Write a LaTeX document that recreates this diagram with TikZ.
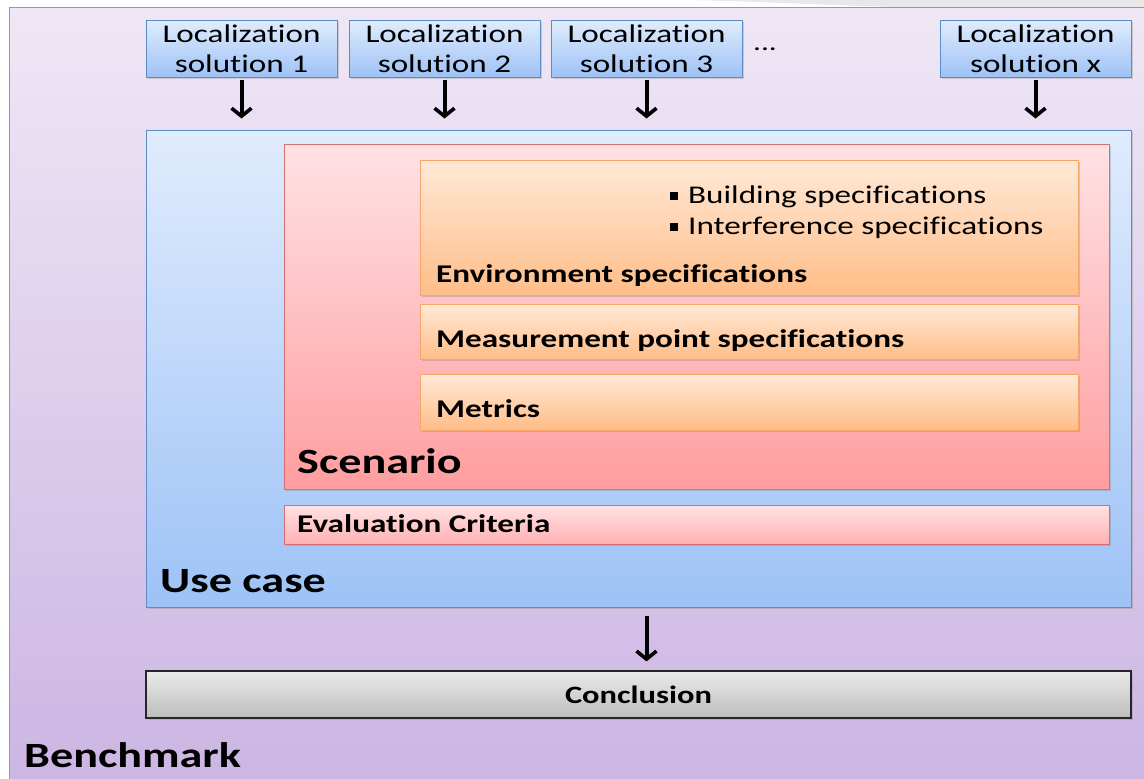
\documentclass[tikz,border=0pt]{standalone}
\usepackage{fontspec}
\setmainfont{Carlito}[FakeStretch=1.3, Ligatures=NoCommon]
\usetikzlibrary{positioning, arrows.meta, shadows}

\definecolor{frametop}{HTML}{EFE7F5}
\definecolor{framebot}{HTML}{CBB4E3}
\definecolor{frameline}{HTML}{A58BC0}
\definecolor{bluetop}{HTML}{E0ECFD}
\definecolor{bluebot}{HTML}{9EC2F6}
\definecolor{blueline}{HTML}{5C8CC8}
\definecolor{pinktop}{HTML}{FFE2E5}
\definecolor{pinkbot}{HTML}{FF9D9F}
\definecolor{pinkline}{HTML}{D86E70}
\definecolor{orangetop}{HTML}{FFE9D7}
\definecolor{orangebot}{HTML}{FFBD88}
\definecolor{orangeline}{HTML}{F7A66A}
\definecolor{greytop}{HTML}{EAEAEA}
\definecolor{greybot}{HTML}{BDBDBD}

\tikzset{
    soft_shadow/.style={
        drop shadow={opacity=0.3, shadow xshift=1.5pt, shadow yshift=-1.5pt}
    },
    sol_box/.style={
        draw=blueline, line width=1pt,
        top color=bluetop, bottom color=bluebot,
        soft_shadow,
        minimum width=191pt, minimum height=57pt,
        inner sep=0pt, align=center,
        font=\fontsize{25.5}{30}\selectfont
    },
    case_box/.style={
        draw=blueline, line width=1pt,
        top color=bluetop, bottom color=bluebot,
        soft_shadow, inner sep=0pt
    },
    scen_box/.style={
        draw=pinkline, line width=1pt,
        top color=pinktop, bottom color=pinkbot,
        soft_shadow, inner sep=0pt
    },
    spec_box/.style={
        draw=orangeline, line width=1pt,
        top color=orangetop, bottom color=orangebot,
        soft_shadow, inner sep=0pt,
        minimum width=658pt
    },
    end_box/.style={
        draw=black!85, line width=1.2pt,
        top color=greytop, bottom color=greybot,
        soft_shadow, inner sep=0pt,
        font=\bfseries\fontsize{25}{28}\selectfont
    },
    title/.style={
        anchor=base west, inner sep=0pt,
        font=\bfseries\fontsize{35.5}{40}\selectfont
    },
    item/.style={
        anchor=base west, inner sep=0pt,
        font=\bfseries\fontsize{25.5}{28}\selectfont
    },
    bullet/.style={
        anchor=base west, inner sep=0pt,
        font=\fontsize{25.5}{30}\selectfont
    },
    flow/.style={
        line width=4pt,
        -{Straight Barb[length=8pt, width=20pt, line width=3.6pt]}
    }
}

\newcommand{\sqbullet}{\rule[3pt]{8pt}{8pt}\hspace{10pt}}

\begin{document}
\begin{tikzpicture}[x=1pt, y=-1pt]
\useasboundingbox (0,0) rectangle (1144,779);
\clip (0,0) rectangle (1144,779);

% slide background corner
\fill[black!9] (690,0) .. controls (780,2) and (840,6) .. (900,7)
    -- (1144,7) -- (1144,0) -- cycle;

% benchmark frame
\draw[frameline, line width=1pt, top color=frametop, bottom color=framebot]
    (9,7) rectangle (1170,800);

% localization solutions
\node[sol_box] (sol1) at (241.5,48.5) {Localization\\solution 1};
\node[sol_box, right=11pt of sol1] (sol2) {Localization\\solution 2};
\node[sol_box, right=10pt of sol2] (sol3) {Localization\\solution 3};
\node[sol_box] (solx) at (1035.5,48.5) {Localization\\solution x};
\node[font=\fontsize{24}{30}\selectfont, inner sep=0pt] (dots) at (765,49) {...};

% use case
\node[case_box, minimum width=985pt, minimum height=477pt] (usecase) at (638.5,368.5) {};

% scenario
\node[scen_box, minimum width=825pt, minimum height=345pt] (scenario) at (696.5,316.5) {};
\node[spec_box, minimum height=135pt] (env) at (749,227.5) {};
\node[spec_box, minimum height=55pt] (meas) at (749,331.5) {};
\node[spec_box, minimum height=56pt] (metrics) at (749,402) {};

\node[bullet] (build) at (670,203) {\sqbullet Building specifications};
\node[bullet] (interf) at (670,234) {\sqbullet Interference specifications};
\node[item] (envtxt) at (436,282) {Environment specifications};
\node[item] (meastxt) at (436,347) {Measurement point specifications};
\node[item] (mettxt) at (436,417) {Metrics};
\node[title] (scentxt) at (297,473) {Scenario};

% evaluation criteria
\node[scen_box, top color=pinktop, bottom color=pinkbot!80,
    minimum width=825pt, minimum height=39pt] (eval) at (696.5,524.5) {};
\node[item] (evaltxt) at (297,532) {Evaluation Criteria};

\node[title] (casetxt) at (160,592) {Use case};

% conclusion
\node[end_box, minimum width=985pt, minimum height=47pt] (concl) at (638.5,694.5) {Conclusion};

\node[title] (benchtxt) at (24,767) {Benchmark};

% arrows
\foreach \s in {sol1, sol2, sol3, solx}
    \draw[flow, shorten <=2pt, shorten >=11pt] (\s.south) -- (\s.south |- usecase.north);
\draw[flow, shorten <=8pt, shorten >=9pt] (usecase.south -| sol3) -- (concl.north -| sol3);

\end{tikzpicture}
\end{document}
